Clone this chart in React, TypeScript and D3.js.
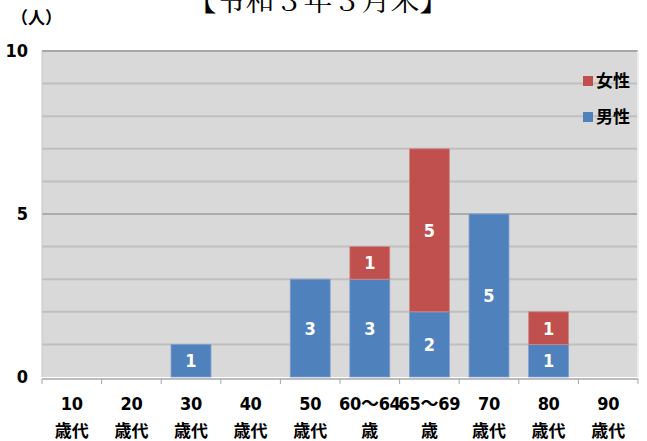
import { useEffect, useRef } from "react";
import * as d3 from "d3";

const WIDTH = 647;
const HEIGHT = 441;
const MARGIN = { top: 51, right: 9, bottom: 64, left: 42 };

const categories = ["10", "20", "30", "40", "50", "60～64", "65～69", "70", "80", "90"];
const subLabels = ["歳代", "歳代", "歳代", "歳代", "歳代", "歳", "歳", "歳代", "歳代", "歳代"];
const male = [0, 0, 1, 0, 3, 3, 2, 5, 1, 0];
const female = [0, 0, 0, 0, 0, 1, 5, 0, 1, 0];
const yTicks = [0, 5, 10];

const BLUE = "#4f81bd";
const RED = "#c0504d";
const FONT = "'DejaVu Sans Condensed', 'Noto Sans CJK JP', sans-serif";
const CJK = "'Noto Sans CJK JP', 'Noto Sans', sans-serif";

export default function App() {
  const svgRef = useRef<SVGSVGElement | null>(null);

  useEffect(() => {
    if (!svgRef.current) return;
    const svg = d3.select(svgRef.current);
    svg.selectAll("*").remove();

    const innerWidth = WIDTH - MARGIN.left - MARGIN.right;
    const innerHeight = HEIGHT - MARGIN.top - MARGIN.bottom;

    const x = d3.scaleBand().domain(categories).range([0, innerWidth]).paddingInner(0.33).paddingOuter(0.165);
    const band = d3.scaleBand().domain(categories).range([0, innerWidth]);
    const y = d3.scaleLinear().domain([0, 10]).range([innerHeight, 0]);

    // title (clipped at the top, as in the source)
    svg
      .append("text")
      .attr("x", 318)
      .attr("y", 11)
      .attr("text-anchor", "middle")
      .attr("fill", "#000")
      .style("font-family", "'Noto Serif CJK JP', 'DejaVu Serif', " + CJK)
      .style("font-size", "29px")
      .text("【令和３年３月末】");

    svg
      .append("text")
      .attr("x", 11)
      .attr("y", 24)
      .attr("fill", "#000")
      .style("font-family", CJK)
      .style("font-weight", "bold")
      .style("font-size", "17px")
      .text("（人）");

    const g = svg.append("g").attr("transform", `translate(${MARGIN.left},${MARGIN.top})`);

    g.append("rect")
      .attr("width", innerWidth)
      .attr("height", innerHeight)
      .attr("fill", "#d9d9d9");

    // gridlines
    g.append("g")
      .selectAll("line")
      .data(d3.range(1, 11))
      .enter()
      .append("line")
      .attr("x1", 0)
      .attr("x2", innerWidth)
      .attr("y1", (d) => y(d))
      .attr("y2", (d) => y(d))
      .attr("stroke", (d) => (d === 5 ? "#7f7f7f" : d === 10 ? "#a6a6a6" : "#bfbfbf"))
      .attr("stroke-width", (d) => (d === 5 ? 1 : 2));

    g.append("line")
      .attr("x1", innerWidth)
      .attr("x2", innerWidth)
      .attr("y1", 0)
      .attr("y2", innerHeight)
      .attr("stroke", "#ececec")
      .attr("stroke-width", 2);
    g.append("line")
      .attr("x1", 0)
      .attr("x2", 0)
      .attr("y1", 0)
      .attr("y2", innerHeight)
      .attr("stroke", "#c8c8c8")
      .attr("stroke-width", 1);

    const rows = categories.map((c, i) => ({ c, m: male[i], f: female[i] }));

    // male bars
    g.selectAll("rect.male")
      .data(rows.filter((d) => d.m > 0))
      .enter()
      .append("rect")
      .attr("class", "male")
      .attr("x", (d) => x(d.c) ?? 0)
      .attr("width", x.bandwidth())
      .attr("y", (d) => y(d.m))
      .attr("height", (d) => y(0) - y(d.m))
      .attr("fill", BLUE)
      .attr("stroke", "#7f9fcf")
      .attr("stroke-width", 0.8);

    // female bars stacked on top
    g.selectAll("rect.female")
      .data(rows.filter((d) => d.f > 0))
      .enter()
      .append("rect")
      .attr("class", "female")
      .attr("x", (d) => x(d.c) ?? 0)
      .attr("width", x.bandwidth())
      .attr("y", (d) => y(d.m + d.f))
      .attr("height", (d) => y(d.m) - y(d.m + d.f))
      .attr("fill", RED)
      .attr("stroke", "#d08a88")
      .attr("stroke-width", 0.8);

    // value labels
    const labels = [
      ...rows.filter((d) => d.m > 0).map((d) => ({ c: d.c, v: d.m, mid: d.m / 2 })),
      ...rows.filter((d) => d.f > 0).map((d) => ({ c: d.c, v: d.f, mid: d.m + d.f / 2 })),
    ];
    g.selectAll("text.val")
      .data(labels)
      .enter()
      .append("text")
      .attr("class", "val")
      .attr("x", (d) => (x(d.c) ?? 0) + x.bandwidth() / 2)
      .attr("y", (d) => y(d.mid))
      .attr("dy", "0.36em")
      .attr("text-anchor", "middle")
      .attr("fill", "#fff")
      .style("font-family", FONT)
      .style("font-weight", "bold")
      .style("font-size", "18px")
      .text((d) => d.v);

    // x axis
    const xAxis = g.append("g").attr("transform", `translate(0,${innerHeight + 2})`);
    xAxis
      .append("line")
      .attr("x1", 0)
      .attr("x2", innerWidth)
      .attr("stroke", "#a6a6a6")
      .attr("stroke-width", 1.5);
    xAxis
      .selectAll("line.tick")
      .data([...categories.map((c) => band(c) ?? 0), innerWidth])
      .enter()
      .append("line")
      .attr("class", "tick")
      .attr("x1", (d) => d)
      .attr("x2", (d) => d)
      .attr("y1", 0)
      .attr("y2", 5)
      .attr("stroke", "#a6a6a6");

    const xl = xAxis
      .selectAll("g.xl")
      .data(categories)
      .enter()
      .append("g")
      .attr("transform", (d) => `translate(${(band(d) ?? 0) + band.bandwidth() / 2},0)`);
    xl.append("text")
      .attr("y", 31)
      .attr("text-anchor", "middle")
      .attr("fill", "#000")
      .style("font-family", FONT)
      .style("font-weight", "bold")
      .style("font-size", "18px")
      .style("letter-spacing", "-0.3px")
      .text((d) => d);
    xl.append("text")
      .attr("y", 58)
      .attr("text-anchor", "middle")
      .attr("fill", "#000")
      .style("font-family", CJK)
      .style("font-weight", "bold")
      .style("font-size", "17px")
      .text((d, i) => subLabels[i]);

    // y axis labels
    g.selectAll("text.yl")
      .data(yTicks)
      .enter()
      .append("text")
      .attr("class", "yl")
      .attr("x", -14)
      .attr("y", (d) => y(d))
      .attr("dy", "0.36em")
      .attr("text-anchor", "end")
      .attr("fill", "#000")
      .style("font-family", FONT)
      .style("font-weight", "bold")
      .style("font-size", "18px")
      .text((d) => d);

    // legend
    const legend = g.append("g").attr("transform", `translate(${innerWidth - 55},0)`);
    const items = [
      { label: "女性", color: RED, yy: 30 },
      { label: "男性", color: BLUE, yy: 66 },
    ];
    const li = legend.selectAll("g").data(items).enter().append("g").attr("transform", (d) => `translate(0,${d.yy})`);
    li.append("rect").attr("x", 0).attr("y", -5).attr("width", 10).attr("height", 10).attr("fill", (d) => d.color);
    li.append("text")
      .attr("x", 13)
      .attr("y", 0)
      .attr("dy", "0.36em")
      .attr("fill", "#000")
      .style("font-family", CJK)
      .style("font-weight", "bold")
      .style("font-size", "17px")
      .text((d) => d.label);
  }, []);

  return (
    <svg
      ref={svgRef}
      width={WIDTH}
      height={HEIGHT}
      style={{ position: "absolute", left: 0, top: 0, background: "#fff" }}
    />
  );
}
